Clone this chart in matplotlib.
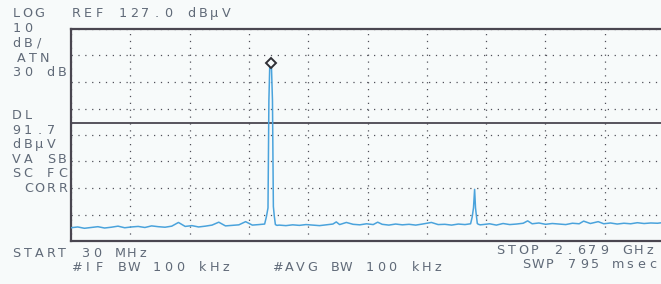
import numpy as np
import matplotlib.pyplot as plt

# sweep settings
start_mhz = 30.0
stop_mhz = 2679.0
ref_level = 127.0
db_per_div = 10
dl_level = 91.7

# trace (MHz, dBuV)
freq_mhz = [30, 60, 90, 120, 150, 180, 210, 240, 270, 300, 330, 360, 390, 420, 450,
            480, 510, 540, 570, 600, 630, 660, 690, 720, 750, 780, 810, 840, 870, 895,
            903, 910, 914, 918, 925, 930, 934, 938, 943, 950,
            960, 990, 1020, 1050, 1080, 1110, 1140, 1170, 1200, 1215, 1230, 1260, 1290,
            1320, 1350, 1380, 1400, 1420, 1450, 1480, 1510, 1540, 1570, 1600, 1640,
            1670, 1700, 1730, 1760, 1790, 1815, 1822, 1828, 1833, 1837, 1841, 1845,
            1850, 1858, 1870, 1900, 1930, 1960, 1990, 2020, 2050, 2070, 2090, 2120,
            2150, 2180, 2210, 2240, 2270, 2300, 2320, 2350, 2385, 2410, 2440, 2470,
            2500, 2530, 2560, 2590, 2620, 2650, 2679]
level_dbuv = [52.0, 52.3, 51.8, 52.1, 52.4, 51.9, 52.2, 52.6, 52.0, 52.3, 52.5, 52.1, 52.7, 52.4, 52.2,
              52.6, 54.0, 52.5, 52.8, 52.3, 52.6, 53.0, 54.1, 52.7, 52.9, 53.1, 54.3, 53.0, 53.2, 53.4,
              56.2, 59.5, 100.0, 113.6, 114.0, 100.0, 60.0, 56.5, 53.2, 52.9,
              53.0, 52.8, 53.1, 52.9, 53.2, 53.0, 52.8, 53.1, 53.4, 54.2, 53.2, 54.0, 53.3,
              53.1, 53.5, 53.2, 54.1, 53.3, 53.0, 53.4, 53.1, 53.3, 53.0, 53.4, 54.0,
              53.2, 53.3, 53.0, 53.4, 53.2, 53.5, 56.0, 59.5, 66.5, 59.5, 56.5, 53.6,
              53.3, 53.1, 53.2, 53.5, 53.0, 53.6, 53.2, 53.4, 53.7, 54.6, 53.5, 53.8,
              53.3, 53.6, 53.4, 53.2, 53.7, 53.5, 54.5, 53.6, 54.3, 53.5, 53.8, 53.4,
              53.7, 53.5, 53.9, 53.6, 53.8, 53.7, 54.0]
marker_mhz = 925
marker_dbuv = 114.2

W, H = 661, 284
bg = '#f7fafa'
txt_col = '#606a78'
pitch = 11.5

fig = plt.figure(figsize=(W / 100, H / 100), dpi=100, facecolor=bg)
ax = fig.add_axes([71 / W, (H - 241) / H, 593 / W, 212 / H])
ax.set_facecolor(bg)

ax.plot(freq_mhz, level_dbuv, color='#4aa3dc', lw=1.1, zorder=3)
ax.plot([marker_mhz], [marker_dbuv], marker='D', ms=5.5, mfc=bg, mec='#2f2f35',
        mew=1.4, zorder=4)
ax.axhline(dl_level, color='#4a4650', lw=1.3, zorder=2)

ax.set_xlim(start_mhz, stop_mhz)
ax.set_ylim(ref_level - 8 * db_per_div, ref_level)
ax.set_xticks(np.linspace(start_mhz, stop_mhz, 11))
ax.set_yticks(np.arange(ref_level - 8 * db_per_div, ref_level + 1, db_per_div))
ax.grid(True, color='#50505a', lw=0.9, linestyle=(0, (1, 4.5)))
ax.tick_params(length=0, labelbottom=False, labelleft=False)
for s in ax.spines.values():
    s.set_color('#4a4650')
    s.set_linewidth(1.6)


def screen_text(x, y, s):
    # fixed-pitch characters, x = left edge of first cell, y = baseline (px from top)
    for i, ch in enumerate(s):
        if ch == ' ':
            continue
        fig.text((x + i * pitch + 4.3) / W, 1 - y / H, ch, ha='center', va='baseline',
                 family='DejaVu Sans', fontsize=9.2, color=txt_col)


screen_text(12, 17, 'LOG')
screen_text(72, 17, 'REF 127.0 dB\u00b5V')
screen_text(12, 32, '10')
screen_text(12, 47, 'dB/')
screen_text(17, 62, 'ATN')
screen_text(12, 76, '30 dB')
screen_text(12, 119, 'DL')
screen_text(12, 134, '91.7')
screen_text(12, 148, 'dB\u00b5V')
screen_text(12, 163, 'VA SB')
screen_text(12, 177, 'SC FC')
screen_text(24, 192, 'CORR')
screen_text(12, 257, 'START 30 MHz')
screen_text(496, 254, 'STOP 2.679 GHz')
screen_text(72, 271, '#IF BW 100 kHz')
screen_text(273, 271, '#AVG BW 100 kHz')
screen_text(522, 268, 'SWP 795 msec')

fig.savefig('out.png', dpi=100, facecolor=bg)
